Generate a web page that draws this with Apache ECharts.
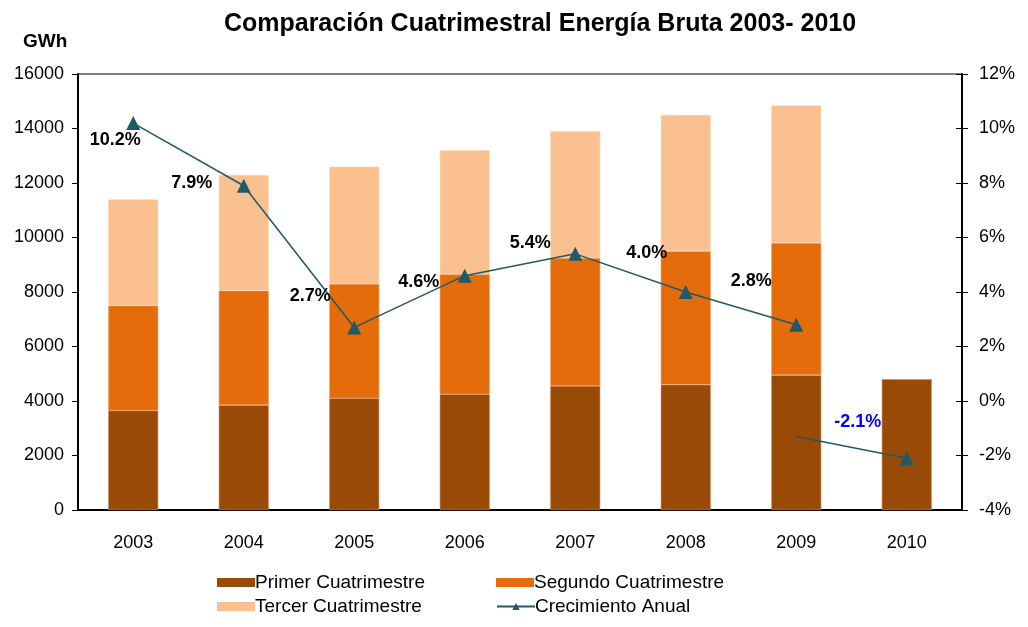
<!DOCTYPE html>
<html>
<head>
<meta charset="utf-8">
<script src="https://cdn.jsdelivr.net/npm/echarts@6/dist/echarts.min.js"></script>
<style>
  html, body { margin: 0; padding: 0; background: #fff; }
  #chart { width: 1028px; height: 627px; }
</style>
</head>
<body>
<div id="chart"></div>
<script>
const years = ['2003', '2004', '2005', '2006', '2007', '2008', '2009', '2010']
const primer = [3650, 3850, 4100, 4250, 4550, 4600, 4950, 4800]
const segundo = [3850, 4200, 4200, 4400, 4700, 4900, 4850, null]
const tercer = [3900, 4250, 4300, 4550, 4650, 5000, 5050, null]
// crecimiento anual (%), the 2010 point is drawn as a separate piece
const crecimiento = [10.2, 7.9, 2.7, 4.6, 5.4, 4.0, 2.8, null]
const crecimiento2010 = [null, null, null, null, null, null, -1.3, -2.1]

// label offsets from each point to the label centre (style only)
const labelOffsets = [[-18, 17], [-52, -3], [-44, -31], [-46, 6], [-45, -11], [-39, -39], [-45, -44]]

const font = 'Liberation Sans, Arial, sans-serif'
const lineColor = '#215968'

const chart = echarts.init(document.getElementById('chart'))

const legendItem = (name, left, top, icon) => ({
  data: [{ name: name, icon: icon }],
  left: left,
  top: top,
  itemWidth: 38,
  itemHeight: 9,
  itemGap: 0,
  selectedMode: false,
  itemStyle: { borderWidth: 0 },
  textStyle: { fontFamily: font, fontSize: 19, color: '#000', padding: [0, 0, 0, -5] }
})

chart.setOption({
  animation: false,
  textStyle: { fontFamily: font },
  title: [{
    text: 'Comparación Cuatrimestral Energía Bruta 2003- 2010',
    left: 535,
    textAlign: 'center',
    top: 7,
    textStyle: { fontFamily: font, fontSize: 25, fontWeight: 'bold', color: '#000' }
  }, {
    text: 'GWh',
    left: 18,
    top: 27,
    textStyle: { fontFamily: font, fontSize: 19, fontWeight: 'bold', color: '#000' }
  }],
  legend: [
    legendItem('Primer Cuatrimestre', 212, 568, 'rect'),
    legendItem('Segundo Cuatrimestre', 491, 568, 'rect'),
    legendItem('Tercer Cuatrimestre', 212, 592, 'rect'),
    legendItem('Crecimiento Anual', 491, 592)
  ],
  grid: {
    left: 78,
    right: 66,
    top: 74,
    bottom: 117,
    show: true,
    borderColor: '#000',
    borderWidth: 1
  },
  xAxis: {
    type: 'category',
    data: years,
    axisLine: { lineStyle: { color: '#000', width: 2 } },
    axisTick: { length: 6, lineStyle: { color: '#000' } },
    axisLabel: { color: '#000', fontSize: 18, margin: 24 }
  },
  yAxis: [{
    type: 'value',
    min: 0,
    max: 16000,
    interval: 2000,
    axisLine: { show: true, lineStyle: { color: '#000', width: 2 } },
    axisTick: { show: true, length: 6, lineStyle: { color: '#000' } },
    axisLabel: { color: '#000', fontSize: 18, margin: 14, formatter: v => String(v) },
    splitLine: { show: false }
  }, {
    type: 'value',
    min: -4,
    max: 12,
    interval: 2,
    axisLine: { show: true, lineStyle: { color: '#000', width: 2 } },
    axisTick: { show: true, length: 6, lineStyle: { color: '#000' } },
    axisLabel: { color: '#000', fontSize: 18, margin: 17, formatter: '{value}%' },
    splitLine: { show: false }
  }, {
    // inner half of the crossing ticks on the right axis
    type: 'value',
    position: 'right',
    min: -4,
    max: 12,
    interval: 2,
    axisLine: { show: false },
    axisTick: { show: true, inside: true, length: 6, lineStyle: { color: '#000' } },
    axisLabel: { show: false },
    splitLine: { show: false }
  }],
  series: [{
    name: 'Primer Cuatrimestre',
    type: 'bar',
    stack: 'energia',
    barWidth: 50,
    data: primer,
    itemStyle: { color: '#994A07', borderColor: '#C98A5A', borderWidth: 0.6 }
  }, {
    name: 'Segundo Cuatrimestre',
    type: 'bar',
    stack: 'energia',
    barWidth: 50,
    data: segundo,
    itemStyle: { color: '#E46C0A', borderColor: '#F0A060', borderWidth: 0.6 }
  }, {
    name: 'Tercer Cuatrimestre',
    type: 'bar',
    stack: 'energia',
    barWidth: 50,
    data: tercer,
    itemStyle: { color: '#FAC090', borderColor: '#FCD8B8', borderWidth: 0.6 }
  }, {
    name: 'Crecimiento Anual',
    type: 'line',
    yAxisIndex: 1,
    data: crecimiento.map((v, i) => ({
      value: v,
      label: v == null ? undefined : { offset: labelOffsets[i] }
    })),
    symbol: 'triangle',
    symbolSize: 14,
    lineStyle: { color: lineColor, width: 1.5 },
    itemStyle: { color: lineColor },
    label: {
      show: true,
      position: 'inside',
      align: 'center',
      verticalAlign: 'middle',
      color: '#000',
      fontSize: 18,
      fontWeight: 'bold',
      formatter: p => p.value.toFixed(1) + '%'
    },
    z: 5
  }, {
    name: 'Crecimiento Anual',
    type: 'line',
    yAxisIndex: 1,
    data: crecimiento2010.map((v, i) => ({
      value: v,
      symbol: i === 7 ? 'triangle' : 'none',
      label: { show: i === 7 }
    })),
    symbolSize: 14,
    lineStyle: { color: lineColor, width: 1.5 },
    itemStyle: { color: lineColor },
    label: {
      position: 'inside',
      align: 'center',
      verticalAlign: 'middle',
      offset: [-49, -36],
      color: '#0000FF',
      fontSize: 18,
      fontWeight: 'bold',
      formatter: p => p.value.toFixed(1) + '%'
    },
    z: 5
  }]
})
</script>
</body>
</html>
